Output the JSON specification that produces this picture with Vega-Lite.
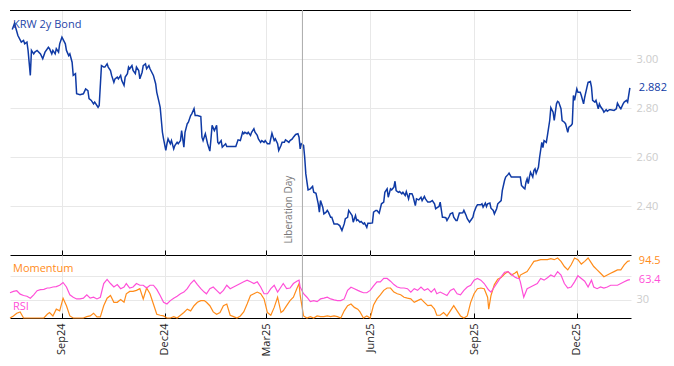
{
  "$schema": "https://vega.github.io/schema/vega-lite/v6.json",
  "background": "white",
  "padding": {"left": 7, "top": 9, "right": 0, "bottom": 0},
  "config": {
    "font": "Open Sans",
    "view": {"stroke": null},
    "concat": {"spacing": 0},
    "axis": {"labelFont": "Open Sans", "labelFontSize": 11, "gridColor": "#e8e8e8", "domainColor": "#000000", "tickColor": "#000000"}
  },
  "datasets": {
    "bond": [
      {"date":"2024-07-19","yield":3.120},{"date":"2024-07-21","yield":3.145},{"date":"2024-07-24","yield":3.096},{"date":"2024-07-27","yield":3.069},{"date":"2024-07-29","yield":3.076},{"date":"2024-07-30","yield":3.062},{"date":"2024-08-01","yield":3.069},{"date":"2024-08-02","yield":3.035},{"date":"2024-08-04","yield":2.933},{"date":"2024-08-05","yield":3.035},{"date":"2024-08-07","yield":3.021},{"date":"2024-08-08","yield":3.028},{"date":"2024-08-10","yield":3.035},{"date":"2024-08-13","yield":3.021},{"date":"2024-08-15","yield":3.001},{"date":"2024-08-17","yield":3.028},{"date":"2024-08-20","yield":3.048},{"date":"2024-08-21","yield":3.042},{"date":"2024-08-23","yield":3.021},{"date":"2024-08-24","yield":3.035},{"date":"2024-08-26","yield":3.021},{"date":"2024-08-27","yield":3.042},{"date":"2024-08-29","yield":3.028},{"date":"2024-08-30","yield":3.062},
      {"date":"2024-09-01","yield":3.089},{"date":"2024-09-04","yield":3.062},{"date":"2024-09-05","yield":3.035},{"date":"2024-09-07","yield":3.014},{"date":"2024-09-08","yield":3.021},{"date":"2024-09-10","yield":2.987},{"date":"2024-09-11","yield":2.933},{"date":"2024-09-13","yield":2.940},{"date":"2024-09-14","yield":2.858},{"date":"2024-09-17","yield":2.854},{"date":"2024-09-20","yield":2.858},{"date":"2024-09-22","yield":2.878},{"date":"2024-09-24","yield":2.871},{"date":"2024-09-25","yield":2.838},{"date":"2024-09-27","yield":2.831},{"date":"2024-09-29","yield":2.817},{"date":"2024-09-30","yield":2.824},
      {"date":"2024-10-03","yield":2.803},{"date":"2024-10-04","yield":2.810},{"date":"2024-10-06","yield":2.973},{"date":"2024-10-08","yield":2.967},{"date":"2024-10-09","yield":2.967},{"date":"2024-10-11","yield":2.980},{"date":"2024-10-12","yield":2.967},{"date":"2024-10-14","yield":2.953},{"date":"2024-10-15","yield":2.933},{"date":"2024-10-17","yield":2.905},{"date":"2024-10-18","yield":2.919},{"date":"2024-10-20","yield":2.926},{"date":"2024-10-21","yield":2.919},{"date":"2024-10-23","yield":2.933},{"date":"2024-10-24","yield":2.912},{"date":"2024-10-26","yield":2.892},{"date":"2024-10-27","yield":2.926},{"date":"2024-10-29","yield":2.940},{"date":"2024-10-30","yield":2.967},{"date":"2024-10-31","yield":2.960},
      {"date":"2024-11-02","yield":2.973},{"date":"2024-11-03","yield":2.953},{"date":"2024-11-05","yield":2.940},{"date":"2024-11-06","yield":2.967},{"date":"2024-11-08","yield":2.953},{"date":"2024-11-09","yield":2.919},{"date":"2024-11-11","yield":2.946},{"date":"2024-11-12","yield":2.973},{"date":"2024-11-14","yield":2.980},{"date":"2024-11-15","yield":2.960},{"date":"2024-11-17","yield":2.973},{"date":"2024-11-18","yield":2.960},{"date":"2024-11-21","yield":2.933},{"date":"2024-11-23","yield":2.899},{"date":"2024-11-24","yield":2.864},{"date":"2024-11-26","yield":2.824},{"date":"2024-11-27","yield":2.803},{"date":"2024-11-29","yield":2.701},{"date":"2024-11-30","yield":2.674},
      {"date":"2024-12-02","yield":2.627},{"date":"2024-12-03","yield":2.654},{"date":"2024-12-04","yield":2.674},{"date":"2024-12-06","yield":2.654},{"date":"2024-12-07","yield":2.667},{"date":"2024-12-09","yield":2.633},{"date":"2024-12-10","yield":2.647},{"date":"2024-12-12","yield":2.660},{"date":"2024-12-13","yield":2.654},{"date":"2024-12-15","yield":2.667},{"date":"2024-12-16","yield":2.708},{"date":"2024-12-18","yield":2.640},{"date":"2024-12-19","yield":2.701},{"date":"2024-12-21","yield":2.736},{"date":"2024-12-22","yield":2.742},{"date":"2024-12-24","yield":2.769},{"date":"2024-12-25","yield":2.776},{"date":"2024-12-27","yield":2.797},{"date":"2024-12-28","yield":2.769},{"date":"2024-12-30","yield":2.769},
      {"date":"2025-01-02","yield":2.765},{"date":"2025-01-03","yield":2.681},{"date":"2025-01-04","yield":2.667},{"date":"2025-01-06","yield":2.695},{"date":"2025-01-08","yield":2.654},{"date":"2025-01-10","yield":2.624},{"date":"2025-01-11","yield":2.674},{"date":"2025-01-12","yield":2.729},{"date":"2025-01-14","yield":2.708},{"date":"2025-01-16","yield":2.729},{"date":"2025-01-17","yield":2.660},{"date":"2025-01-18","yield":2.654},{"date":"2025-01-20","yield":2.667},{"date":"2025-01-21","yield":2.640},{"date":"2025-01-24","yield":2.654},{"date":"2025-01-25","yield":2.643},
      {"date":"2025-02-02","yield":2.643},{"date":"2025-02-04","yield":2.670},{"date":"2025-02-06","yield":2.667},{"date":"2025-02-08","yield":2.701},{"date":"2025-02-09","yield":2.695},{"date":"2025-02-10","yield":2.701},{"date":"2025-02-12","yield":2.695},{"date":"2025-02-13","yield":2.701},{"date":"2025-02-15","yield":2.688},{"date":"2025-02-16","yield":2.701},{"date":"2025-02-18","yield":2.715},{"date":"2025-02-19","yield":2.701},{"date":"2025-02-21","yield":2.688},{"date":"2025-02-22","yield":2.674},{"date":"2025-02-24","yield":2.660},{"date":"2025-02-25","yield":2.667},{"date":"2025-02-27","yield":2.660},{"date":"2025-02-28","yield":2.667},
      {"date":"2025-03-02","yield":2.654},{"date":"2025-03-04","yield":2.654},{"date":"2025-03-06","yield":2.697},{"date":"2025-03-08","yield":2.667},{"date":"2025-03-09","yield":2.674},{"date":"2025-03-11","yield":2.654},{"date":"2025-03-12","yield":2.627},{"date":"2025-03-14","yield":2.647},{"date":"2025-03-15","yield":2.660},{"date":"2025-03-17","yield":2.660},{"date":"2025-03-18","yield":2.670},{"date":"2025-03-19","yield":2.667},{"date":"2025-03-21","yield":2.660},{"date":"2025-03-22","yield":2.667},{"date":"2025-03-24","yield":2.674},{"date":"2025-03-25","yield":2.681},{"date":"2025-03-27","yield":2.692},{"date":"2025-03-29","yield":2.695},{"date":"2025-03-30","yield":2.681},{"date":"2025-03-31","yield":2.633},
      {"date":"2025-04-01","yield":2.654},{"date":"2025-04-03","yield":2.647},{"date":"2025-04-04","yield":2.599},{"date":"2025-04-05","yield":2.531},{"date":"2025-04-07","yield":2.466},{"date":"2025-04-09","yield":2.470},{"date":"2025-04-11","yield":2.480},{"date":"2025-04-12","yield":2.456},{"date":"2025-04-14","yield":2.452},{"date":"2025-04-16","yield":2.409},{"date":"2025-04-17","yield":2.375},{"date":"2025-04-18","yield":2.422},{"date":"2025-04-20","yield":2.395},{"date":"2025-04-21","yield":2.368},{"date":"2025-04-23","yield":2.375},{"date":"2025-04-24","yield":2.382},{"date":"2025-04-25","yield":2.375},{"date":"2025-04-27","yield":2.354},{"date":"2025-04-28","yield":2.354},{"date":"2025-04-30","yield":2.327},
      {"date":"2025-05-03","yield":2.327},{"date":"2025-05-05","yield":2.320},{"date":"2025-05-07","yield":2.300},{"date":"2025-05-09","yield":2.327},{"date":"2025-05-10","yield":2.348},{"date":"2025-05-12","yield":2.354},{"date":"2025-05-13","yield":2.382},{"date":"2025-05-15","yield":2.368},{"date":"2025-05-16","yield":2.361},{"date":"2025-05-17","yield":2.334},{"date":"2025-05-19","yield":2.361},{"date":"2025-05-20","yield":2.341},{"date":"2025-05-21","yield":2.344},{"date":"2025-05-23","yield":2.334},{"date":"2025-05-24","yield":2.337},{"date":"2025-05-26","yield":2.327},{"date":"2025-05-27","yield":2.331},{"date":"2025-05-29","yield":2.313},{"date":"2025-05-30","yield":2.330},
      {"date":"2025-06-01","yield":2.330},{"date":"2025-06-03","yield":2.331},{"date":"2025-06-04","yield":2.375},{"date":"2025-06-06","yield":2.382},{"date":"2025-06-07","yield":2.382},{"date":"2025-06-09","yield":2.371},{"date":"2025-06-11","yield":2.409},{"date":"2025-06-13","yield":2.416},{"date":"2025-06-14","yield":2.456},{"date":"2025-06-16","yield":2.470},{"date":"2025-06-17","yield":2.436},{"date":"2025-06-19","yield":2.470},{"date":"2025-06-20","yield":2.466},{"date":"2025-06-22","yield":2.477},{"date":"2025-06-23","yield":2.501},{"date":"2025-06-24","yield":2.463},{"date":"2025-06-26","yield":2.456},{"date":"2025-06-27","yield":2.459},{"date":"2025-06-29","yield":2.450},{"date":"2025-06-30","yield":2.456},
      {"date":"2025-07-02","yield":2.443},{"date":"2025-07-03","yield":2.459},{"date":"2025-07-05","yield":2.429},{"date":"2025-07-06","yield":2.450},{"date":"2025-07-08","yield":2.450},{"date":"2025-07-09","yield":2.439},{"date":"2025-07-11","yield":2.402},{"date":"2025-07-12","yield":2.429},{"date":"2025-07-14","yield":2.425},{"date":"2025-07-16","yield":2.436},{"date":"2025-07-17","yield":2.422},{"date":"2025-07-19","yield":2.439},{"date":"2025-07-20","yield":2.429},{"date":"2025-07-22","yield":2.416},{"date":"2025-07-24","yield":2.416},{"date":"2025-07-26","yield":2.422},{"date":"2025-07-28","yield":2.409},{"date":"2025-07-29","yield":2.389},{"date":"2025-07-31","yield":2.395},
      {"date":"2025-08-01","yield":2.398},{"date":"2025-08-02","yield":2.416},{"date":"2025-08-04","yield":2.354},{"date":"2025-08-05","yield":2.354},{"date":"2025-08-07","yield":2.352},{"date":"2025-08-08","yield":2.341},{"date":"2025-08-10","yield":2.357},{"date":"2025-08-11","yield":2.368},{"date":"2025-08-13","yield":2.372},{"date":"2025-08-14","yield":2.354},{"date":"2025-08-16","yield":2.341},{"date":"2025-08-17","yield":2.341},{"date":"2025-08-19","yield":2.371},{"date":"2025-08-20","yield":2.371},{"date":"2025-08-22","yield":2.372},{"date":"2025-08-23","yield":2.382},{"date":"2025-08-25","yield":2.361},{"date":"2025-08-26","yield":2.348},{"date":"2025-08-28","yield":2.334},{"date":"2025-08-29","yield":2.341},{"date":"2025-08-31","yield":2.354},
      {"date":"2025-09-01","yield":2.375},{"date":"2025-09-03","yield":2.398},{"date":"2025-09-04","yield":2.405},{"date":"2025-09-07","yield":2.405},{"date":"2025-09-08","yield":2.409},{"date":"2025-09-09","yield":2.395},{"date":"2025-09-11","yield":2.412},{"date":"2025-09-12","yield":2.398},{"date":"2025-09-13","yield":2.409},{"date":"2025-09-15","yield":2.412},{"date":"2025-09-16","yield":2.391},{"date":"2025-09-18","yield":2.382},{"date":"2025-09-19","yield":2.368},{"date":"2025-09-21","yield":2.389},{"date":"2025-09-22","yield":2.409},{"date":"2025-09-25","yield":2.422},{"date":"2025-09-26","yield":2.463},{"date":"2025-09-28","yield":2.504},{"date":"2025-09-29","yield":2.518},
      {"date":"2025-10-01","yield":2.528},{"date":"2025-10-02","yield":2.534},{"date":"2025-10-04","yield":2.518},{"date":"2025-10-08","yield":2.518},{"date":"2025-10-12","yield":2.518},{"date":"2025-10-13","yield":2.484},{"date":"2025-10-15","yield":2.474},{"date":"2025-10-16","yield":2.470},{"date":"2025-10-17","yield":2.497},{"date":"2025-10-18","yield":2.511},{"date":"2025-10-19","yield":2.491},{"date":"2025-10-20","yield":2.518},{"date":"2025-10-21","yield":2.538},{"date":"2025-10-23","yield":2.518},{"date":"2025-10-24","yield":2.545},{"date":"2025-10-25","yield":2.552},{"date":"2025-10-26","yield":2.534},{"date":"2025-10-28","yield":2.558},{"date":"2025-10-29","yield":2.597},{"date":"2025-10-31","yield":2.660},
      {"date":"2025-11-01","yield":2.638},{"date":"2025-11-02","yield":2.667},{"date":"2025-11-04","yield":2.660},{"date":"2025-11-05","yield":2.688},{"date":"2025-11-07","yield":2.749},{"date":"2025-11-08","yield":2.801},{"date":"2025-11-10","yield":2.783},{"date":"2025-11-11","yield":2.749},{"date":"2025-11-13","yield":2.817},{"date":"2025-11-14","yield":2.827},{"date":"2025-11-15","yield":2.824},{"date":"2025-11-17","yield":2.797},{"date":"2025-11-18","yield":2.749},{"date":"2025-11-20","yield":2.742},{"date":"2025-11-21","yield":2.736},{"date":"2025-11-23","yield":2.701},{"date":"2025-11-24","yield":2.722},{"date":"2025-11-26","yield":2.729},{"date":"2025-11-27","yield":2.736},{"date":"2025-11-28","yield":2.851},{"date":"2025-11-29","yield":2.831},
      {"date":"2025-12-01","yield":2.878},{"date":"2025-12-02","yield":2.864},{"date":"2025-12-04","yield":2.864},{"date":"2025-12-05","yield":2.851},{"date":"2025-12-07","yield":2.817},{"date":"2025-12-08","yield":2.844},{"date":"2025-12-10","yield":2.885},{"date":"2025-12-11","yield":2.905},{"date":"2025-12-13","yield":2.908},{"date":"2025-12-14","yield":2.885},{"date":"2025-12-15","yield":2.831},{"date":"2025-12-17","yield":2.824},{"date":"2025-12-18","yield":2.831},{"date":"2025-12-20","yield":2.797},{"date":"2025-12-21","yield":2.817},{"date":"2025-12-22","yield":2.806},{"date":"2025-12-24","yield":2.793},{"date":"2025-12-25","yield":2.783},{"date":"2025-12-27","yield":2.793},{"date":"2025-12-28","yield":2.787},{"date":"2025-12-30","yield":2.793},{"date":"2025-12-31","yield":2.793},
      {"date":"2026-01-03","yield":2.790},{"date":"2026-01-05","yield":2.797},{"date":"2026-01-06","yield":2.820},{"date":"2026-01-08","yield":2.803},{"date":"2026-01-09","yield":2.797},{"date":"2026-01-11","yield":2.817},{"date":"2026-01-12","yield":2.824},{"date":"2026-01-14","yield":2.831},{"date":"2026-01-15","yield":2.824},{"date":"2026-01-17","yield":2.882}
    ],
    "ind": [
      {"date":"2024-07-17","momentum":0,"rsi":41.7},{"date":"2024-07-20","momentum":3.4,"rsi":43.9},{"date":"2024-07-23","momentum":7.9,"rsi":45.0},{"date":"2024-07-26","momentum":10.1,"rsi":39.4},{"date":"2024-07-29","momentum":0,"rsi":37.2},{"date":"2024-08-01","momentum":0,"rsi":36.0},{"date":"2024-08-04","momentum":0,"rsi":32.7},{"date":"2024-08-07","momentum":0,"rsi":38.3},{"date":"2024-08-10","momentum":0,"rsi":45.0},{"date":"2024-08-13","momentum":0,"rsi":46.7},{"date":"2024-08-16","momentum":0,"rsi":47.3},{"date":"2024-08-19","momentum":6.2,"rsi":49.5},{"date":"2024-08-21","momentum":9.0,"rsi":49.5},{"date":"2024-08-24","momentum":3.4,"rsi":51.2},{"date":"2024-08-27","momentum":14.6,"rsi":51.8},{"date":"2024-08-30","momentum":11.8,"rsi":54.1},
      {"date":"2024-09-02","momentum":32.7,"rsi":58.6},{"date":"2024-09-05","momentum":20.3,"rsi":51.2},{"date":"2024-09-08","momentum":3.4,"rsi":38.3},{"date":"2024-09-11","momentum":0,"rsi":34.3},{"date":"2024-09-14","momentum":0,"rsi":31.5},{"date":"2024-09-17","momentum":0,"rsi":31.5},{"date":"2024-09-20","momentum":0,"rsi":32.7},{"date":"2024-09-23","momentum":2.3,"rsi":38.3},{"date":"2024-09-26","momentum":3.4,"rsi":32.7},{"date":"2024-09-29","momentum":7.9,"rsi":34.3},
      {"date":"2024-10-02","momentum":1.7,"rsi":31.5},{"date":"2024-10-05","momentum":1.7,"rsi":34.3},{"date":"2024-10-08","momentum":20.3,"rsi":56.9},{"date":"2024-10-11","momentum":32.7,"rsi":63.6},{"date":"2024-10-14","momentum":37.2,"rsi":56.9},{"date":"2024-10-17","momentum":25.9,"rsi":51.2},{"date":"2024-10-20","momentum":25.9,"rsi":55.2},{"date":"2024-10-23","momentum":30.4,"rsi":48.4},{"date":"2024-10-26","momentum":25.9,"rsi":51.2},{"date":"2024-10-28","momentum":40.0,"rsi":56.9},{"date":"2024-10-31","momentum":43.9,"rsi":49.5},
      {"date":"2024-11-03","momentum":43.9,"rsi":51.2},{"date":"2024-11-06","momentum":45.6,"rsi":56.9},{"date":"2024-11-09","momentum":48.4,"rsi":54.1},{"date":"2024-11-12","momentum":31.5,"rsi":54.1},{"date":"2024-11-15","momentum":49.5,"rsi":49.5},{"date":"2024-11-18","momentum":40.0,"rsi":54.1},{"date":"2024-11-21","momentum":23.1,"rsi":54.1},{"date":"2024-11-24","momentum":6.2,"rsi":47.3},{"date":"2024-11-27","momentum":4.5,"rsi":37.2},{"date":"2024-11-30","momentum":3.4,"rsi":25.9},
      {"date":"2024-12-03","momentum":0,"rsi":23.1},{"date":"2024-12-06","momentum":0,"rsi":28.7},{"date":"2024-12-09","momentum":2.3,"rsi":32.7},{"date":"2024-12-12","momentum":0,"rsi":36.0},{"date":"2024-12-15","momentum":4.5,"rsi":40.0},{"date":"2024-12-18","momentum":9.0,"rsi":42.8},{"date":"2024-12-21","momentum":14.6,"rsi":48.4},{"date":"2024-12-24","momentum":11.8,"rsi":56.9},{"date":"2024-12-27","momentum":20.3,"rsi":62.5},{"date":"2024-12-30","momentum":25.9,"rsi":55.2},
      {"date":"2025-01-02","momentum":28.7,"rsi":48.4},{"date":"2025-01-05","momentum":28.7,"rsi":42.8},{"date":"2025-01-07","momentum":25.9,"rsi":40.0},{"date":"2025-01-10","momentum":20.3,"rsi":48.4},{"date":"2025-01-13","momentum":10.1,"rsi":51.2},{"date":"2025-01-16","momentum":6.2,"rsi":45.6},{"date":"2025-01-19","momentum":9.0,"rsi":40.0},{"date":"2025-01-22","momentum":20.3,"rsi":45.6},{"date":"2025-01-25","momentum":23.1,"rsi":54.1},{"date":"2025-01-28","momentum":4.5,"rsi":48.4},{"date":"2025-01-31","momentum":2.3,"rsi":51.2},
      {"date":"2025-02-03","momentum":0,"rsi":54.1},{"date":"2025-02-06","momentum":3.4,"rsi":56.9},{"date":"2025-02-09","momentum":10.1,"rsi":59.7},{"date":"2025-02-12","momentum":23.1,"rsi":62.5},{"date":"2025-02-15","momentum":37.2,"rsi":59.7},{"date":"2025-02-18","momentum":40.0,"rsi":56.9},{"date":"2025-02-21","momentum":42.8,"rsi":59.7},{"date":"2025-02-24","momentum":40.0,"rsi":51.2},{"date":"2025-02-27","momentum":31.5,"rsi":40.0},
      {"date":"2025-03-02","momentum":9.0,"rsi":40.0},{"date":"2025-03-05","momentum":4.5,"rsi":48.4},{"date":"2025-03-08","momentum":17.5,"rsi":54.1},{"date":"2025-03-11","momentum":34.3,"rsi":42.8},{"date":"2025-03-14","momentum":9.0,"rsi":51.2},{"date":"2025-03-16","momentum":11.8,"rsi":56.9},{"date":"2025-03-19","momentum":20.3,"rsi":48.4},{"date":"2025-03-22","momentum":28.7,"rsi":49.5},{"date":"2025-03-25","momentum":34.3,"rsi":56.9},{"date":"2025-03-28","momentum":48.4,"rsi":60.8},{"date":"2025-03-30","momentum":56.9,"rsi":62.5},{"date":"2025-03-31","momentum":37.2,"rsi":51.2},
      {"date":"2025-04-03","momentum":3.4,"rsi":40.0},{"date":"2025-04-06","momentum":0,"rsi":34.3},{"date":"2025-04-09","momentum":2.3,"rsi":27.0},{"date":"2025-04-12","momentum":0,"rsi":28.7},{"date":"2025-04-15","momentum":3.4,"rsi":27.0},{"date":"2025-04-18","momentum":2.3,"rsi":31.5},{"date":"2025-04-21","momentum":2.3,"rsi":32.7},{"date":"2025-04-24","momentum":3.4,"rsi":34.3},{"date":"2025-04-27","momentum":2.3,"rsi":31.5},{"date":"2025-04-30","momentum":3.4,"rsi":29.8},
      {"date":"2025-05-03","momentum":2.3,"rsi":28.7},{"date":"2025-05-06","momentum":0,"rsi":28.7},{"date":"2025-05-09","momentum":11.8,"rsi":31.5},{"date":"2025-05-12","momentum":20.3,"rsi":45.6},{"date":"2025-05-15","momentum":23.1,"rsi":50.7},{"date":"2025-05-18","momentum":17.5,"rsi":48.4},{"date":"2025-05-21","momentum":14.6,"rsi":45.6},{"date":"2025-05-23","momentum":10.1,"rsi":43.9},{"date":"2025-05-26","momentum":0,"rsi":41.7},{"date":"2025-05-29","momentum":3.4,"rsi":41.7},
      {"date":"2025-06-01","momentum":0,"rsi":45.6},{"date":"2025-06-04","momentum":21.4,"rsi":52.9},{"date":"2025-06-07","momentum":31.5,"rsi":59.7},{"date":"2025-06-10","momentum":38.3,"rsi":59.7},{"date":"2025-06-13","momentum":45.6,"rsi":65.3},{"date":"2025-06-16","momentum":49.5,"rsi":65.3},{"date":"2025-06-19","momentum":49.5,"rsi":60.8},{"date":"2025-06-22","momentum":42.8,"rsi":55.2},{"date":"2025-06-25","momentum":40.0,"rsi":51.2},{"date":"2025-06-28","momentum":38.3,"rsi":49.5},
      {"date":"2025-07-01","momentum":34.3,"rsi":49.5},{"date":"2025-07-04","momentum":32.7,"rsi":48.4},{"date":"2025-07-07","momentum":31.5,"rsi":42.8},{"date":"2025-07-10","momentum":25.9,"rsi":48.4},{"date":"2025-07-13","momentum":28.7,"rsi":45.6},{"date":"2025-07-16","momentum":31.5,"rsi":51.2},{"date":"2025-07-19","momentum":25.9,"rsi":45.6},{"date":"2025-07-22","momentum":20.3,"rsi":48.4},{"date":"2025-07-25","momentum":21.4,"rsi":42.8},{"date":"2025-07-28","momentum":14.6,"rsi":48.4},{"date":"2025-07-30","momentum":4.5,"rsi":40.0},
      {"date":"2025-08-02","momentum":4.5,"rsi":42.8},{"date":"2025-08-05","momentum":9.0,"rsi":40.0},{"date":"2025-08-08","momentum":3.4,"rsi":37.2},{"date":"2025-08-11","momentum":11.8,"rsi":45.6},{"date":"2025-08-14","momentum":20.3,"rsi":48.4},{"date":"2025-08-17","momentum":11.8,"rsi":40.0},{"date":"2025-08-20","momentum":3.4,"rsi":38.3},{"date":"2025-08-23","momentum":0,"rsi":45.6},{"date":"2025-08-26","momentum":3.4,"rsi":51.2},{"date":"2025-08-29","momentum":25.9,"rsi":54.1},
      {"date":"2025-09-01","momentum":40.0,"rsi":62.5},{"date":"2025-09-04","momentum":48.4,"rsi":65.3},{"date":"2025-09-07","momentum":49.5,"rsi":62.5},{"date":"2025-09-10","momentum":48.4,"rsi":56.9},{"date":"2025-09-13","momentum":34.3,"rsi":48.4},{"date":"2025-09-14","momentum":14.6,"rsi":46.2},{"date":"2025-09-16","momentum":37.2,"rsi":42.8},{"date":"2025-09-19","momentum":55.2,"rsi":51.2},{"date":"2025-09-22","momentum":64.2,"rsi":59.7},{"date":"2025-09-25","momentum":67.0,"rsi":68.1},{"date":"2025-09-28","momentum":72.6,"rsi":75.5},
      {"date":"2025-10-01","momentum":76.6,"rsi":76.6},{"date":"2025-10-04","momentum":70.9,"rsi":72.1},{"date":"2025-10-07","momentum":73.8,"rsi":67.6},{"date":"2025-10-09","momentum":76.6,"rsi":65.9},{"date":"2025-10-11","momentum":65.3,"rsi":65.3},{"date":"2025-10-12","momentum":70.9,"rsi":59.7},{"date":"2025-10-15","momentum":73.8,"rsi":34.3},{"date":"2025-10-18","momentum":76.6,"rsi":48.4},{"date":"2025-10-21","momentum":85.0,"rsi":51.2},{"date":"2025-10-24","momentum":93.5,"rsi":54.1},{"date":"2025-10-27","momentum":94.6,"rsi":56.9},{"date":"2025-10-30","momentum":96.3,"rsi":65.3},
      {"date":"2025-11-02","momentum":96.3,"rsi":62.5},{"date":"2025-11-05","momentum":96.3,"rsi":66.4},{"date":"2025-11-08","momentum":98.0,"rsi":70.9},{"date":"2025-11-11","momentum":96.3,"rsi":68.1},{"date":"2025-11-14","momentum":99.1,"rsi":76.6},{"date":"2025-11-17","momentum":93.5,"rsi":70.9},{"date":"2025-11-20","momentum":85.0,"rsi":56.9},{"date":"2025-11-23","momentum":79.4,"rsi":49.5},{"date":"2025-11-26","momentum":87.8,"rsi":51.2},{"date":"2025-11-29","momentum":99.1,"rsi":59.7},
      {"date":"2025-12-02","momentum":96.3,"rsi":69.8},{"date":"2025-12-05","momentum":89.0,"rsi":65.3},{"date":"2025-12-08","momentum":93.5,"rsi":60.8},{"date":"2025-12-11","momentum":99.1,"rsi":51.2},{"date":"2025-12-14","momentum":90.7,"rsi":62.5},{"date":"2025-12-16","momentum":85.0,"rsi":51.2},{"date":"2025-12-19","momentum":79.4,"rsi":48.4},{"date":"2025-12-22","momentum":73.8,"rsi":51.2},{"date":"2025-12-25","momentum":68.1,"rsi":49.5},{"date":"2025-12-28","momentum":70.9,"rsi":51.2},{"date":"2025-12-31","momentum":73.8,"rsi":54.1},
      {"date":"2026-01-03","momentum":76.6,"rsi":54.1},{"date":"2026-01-06","momentum":79.4,"rsi":54.1},{"date":"2026-01-09","momentum":79.4,"rsi":56.9},{"date":"2026-01-12","momentum":87.8,"rsi":59.7},{"date":"2026-01-15","momentum":93.5,"rsi":62.5},{"date":"2026-01-17","momentum":94.5,"rsi":63.4}
    ],
    "events": [{"date":"2025-04-02","label":"Liberation Day"}],
    "frame": [{"top": 3.2}],
    "lastBond": [{"date":"2026-01-17","value":2.882,"label":"2.882"}],
    "lastInd": [{"date":"2026-01-17","value":94.5,"label":"94.5","series":"Momentum"},{"date":"2026-01-17","value":63.4,"label":"63.4","series":"RSI"}]
  },
  "bounds": "flush",
  "spacing": 0,
  "vconcat": [
    {
      "width": 621,
      "height": 245,
      "layer": [
        {
          "data": {"name": "bond"},
          "mark": {"type": "line", "color": "#0f3aa5", "strokeWidth": 1.5},
          "encoding": {
            "x": {"field": "date", "type": "temporal", "title": null,
              "scale": {"type": "utc", "domain": [{"year": 2024, "month": 7, "date": 17, "utc": true}, {"year": 2026, "month": 1, "date": 18, "utc": true}]},
              "axis": {"orient": "bottom", "labels": false, "tickSize": -5, "domain": true, "domainColor": "#000000", "tickColor": "#000000", "grid": true, "gridColor": "#e8e8e8",
                "values": [{"year": 2024, "month": 9, "date": 1, "utc": true}, {"year": 2024, "month": 12, "date": 1, "utc": true}, {"year": 2025, "month": 3, "date": 1, "utc": true}, {"year": 2025, "month": 6, "date": 1, "utc": true}, {"year": 2025, "month": 9, "date": 1, "utc": true}, {"year": 2025, "month": 12, "date": 1, "utc": true}]}},
            "y": {"field": "yield", "type": "quantitative", "title": null,
              "scale": {"domain": [2.2, 3.2], "nice": false, "zero": false},
              "axis": {"orient": "right", "values": [2.4, 2.6, 2.8, 3.0], "format": ".2f", "domain": false, "ticks": false, "labelColor": "#cccccc", "labelPadding": 5, "grid": true, "gridColor": "#e8e8e8"}}
          }
        },
        {
          "data": {"name": "frame"},
          "mark": {"type": "rule", "color": "#000000", "strokeWidth": 1, "yOffset": 0.5},
          "encoding": {
            "y": {"field": "top", "type": "quantitative"}
          }
        },
        {
          "data": {"name": "events"},
          "mark": {"type": "rule", "color": "#aaaaaa", "strokeWidth": 1},
          "encoding": {
            "x": {"field": "date", "type": "temporal"}
          }
        },
        {
          "data": {"name": "events"},
          "mark": {"type": "text", "angle": 270, "align": "left", "baseline": "alphabetic", "dy": -10, "fontSize": 10, "color": "#777777"},
          "encoding": {
            "x": {"field": "date", "type": "temporal"},
            "y": {"datum": 2.247, "type": "quantitative"},
            "text": {"field": "label"}
          }
        },
        {
          "data": {"values": [{"label": "KRW 2y Bond"}]},
          "mark": {"type": "text", "align": "left", "baseline": "middle", "dx": 3, "fontSize": 11, "color": "#1f46a8"},
          "encoding": {
            "x": {"datum": {"year": 2024, "month": 7, "date": 17, "utc": true}, "type": "temporal"},
            "y": {"datum": 3.137, "type": "quantitative"},
            "text": {"field": "label"}
          }
        },
        {
          "data": {"name": "lastBond"},
          "mark": {"type": "text", "align": "left", "baseline": "middle", "dx": 9, "fontSize": 11, "color": "#0f3aa5"},
          "encoding": {
            "x": {"field": "date", "type": "temporal"},
            "y": {"field": "value", "type": "quantitative"},
            "text": {"field": "label"}
          }
        }
      ]
    },
    {
      "width": 621,
      "height": 63,
      "layer": [
        {
          "data": {"name": "ind"},
          "mark": {"type": "line", "color": "#ff8c1a", "strokeWidth": 1.2},
          "encoding": {
            "x": {"field": "date", "type": "temporal", "title": null,
              "scale": {"type": "utc", "domain": [{"year": 2024, "month": 7, "date": 17, "utc": true}, {"year": 2026, "month": 1, "date": 18, "utc": true}]},
              "axis": {"orient": "bottom", "tickSize": -5, "labelPadding": 10, "labelAngle": 270, "labelAlign": "right", "labelBaseline": "middle", "labelColor": "#222222", "labelFontSize": 11,
                "domain": true, "domainColor": "#000000", "tickColor": "#000000",
                "labelExpr": "utcFormat(datum.value, '%b%y')", "grid": true, "gridColor": "#e8e8e8",
                "values": [{"year": 2024, "month": 9, "date": 1, "utc": true}, {"year": 2024, "month": 12, "date": 1, "utc": true}, {"year": 2025, "month": 3, "date": 1, "utc": true}, {"year": 2025, "month": 6, "date": 1, "utc": true}, {"year": 2025, "month": 9, "date": 1, "utc": true}, {"year": 2025, "month": 12, "date": 1, "utc": true}]}},
            "y": {"field": "momentum", "type": "quantitative", "title": null,
              "scale": {"domain": [0, 104], "nice": false},
              "axis": {"orient": "right", "values": [30, 70], "labelExpr": "datum.value == 30 ? '30' : ''", "domain": false, "ticks": false, "labelColor": "#cccccc", "labelPadding": 5, "grid": true, "gridColor": "#e8e8e8"}}
          }
        },
        {
          "data": {"name": "ind"},
          "mark": {"type": "line", "color": "#ff4fd8", "strokeWidth": 1.2},
          "encoding": {
            "x": {"field": "date", "type": "temporal"},
            "y": {"field": "rsi", "type": "quantitative"}
          }
        },
        {
          "data": {"name": "events"},
          "mark": {"type": "rule", "color": "#aaaaaa", "strokeWidth": 1},
          "encoding": {
            "x": {"field": "date", "type": "temporal"}
          }
        },
        {
          "data": {"values": [{"label": "Momentum", "value": 80.9, "series": "Momentum"}, {"label": "RSI", "value": 18.2, "series": "RSI"}]},
          "mark": {"type": "text", "align": "left", "baseline": "middle", "dx": 3, "fontSize": 11},
          "encoding": {
            "x": {"datum": {"year": 2024, "month": 7, "date": 17, "utc": true}, "type": "temporal"},
            "y": {"field": "value", "type": "quantitative"},
            "text": {"field": "label"},
            "color": {"field": "series", "type": "nominal", "legend": null, "scale": {"domain": ["Momentum", "RSI"], "range": ["#ff8c1a", "#ff4fd8"]}}
          }
        },
        {
          "data": {"name": "lastInd"},
          "mark": {"type": "text", "align": "left", "baseline": "middle", "dx": 9, "fontSize": 11},
          "encoding": {
            "x": {"field": "date", "type": "temporal"},
            "y": {"field": "value", "type": "quantitative"},
            "text": {"field": "label"},
            "color": {"field": "series", "type": "nominal", "legend": null, "scale": {"domain": ["Momentum", "RSI"], "range": ["#ff8c1a", "#ff4fd8"]}}
          }
        }
      ]
    }
  ]
}
